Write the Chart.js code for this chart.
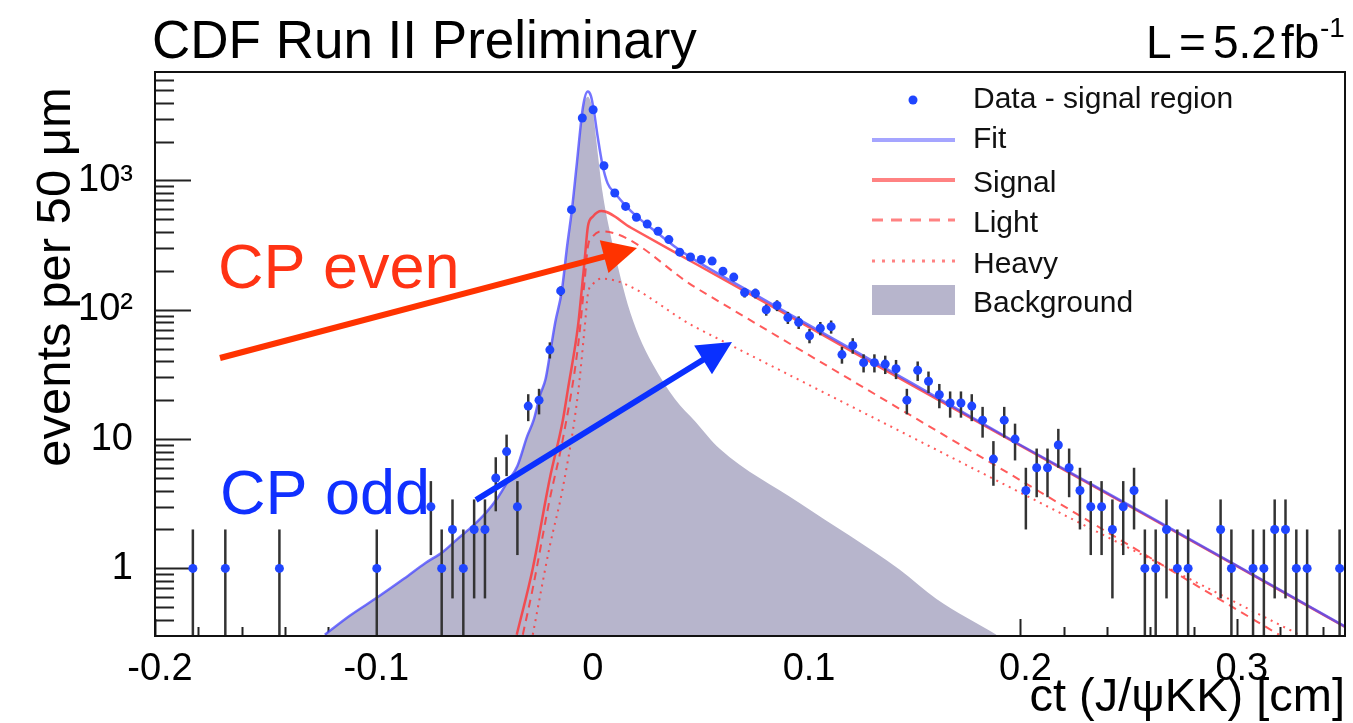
<!DOCTYPE html>
<html>
<head>
<meta charset="utf-8">
<script src="https://cdn.jsdelivr.net/npm/chart.js@4.4.1/dist/chart.umd.min.js"></script>
<style>
  html, body { margin: 0; padding: 0; background: #fff; }
  #wrap { width: 1353px; height: 723px; }
</style>
</head>
<body>
<div id="wrap"><canvas id="ctChart" width="1353" height="723"></canvas></div>
<script>
// proper decay length histogram, 50 um bins (bin centres in cm)
const binCenters = [
  -0.1825, -0.1675, -0.1425, -0.0975, -0.0725, -0.0675, -0.0625, -0.0575, -0.0525, -0.0475,
  -0.0425, -0.0375, -0.0325, -0.0275, -0.0225, -0.0175, -0.0125, -0.0075, -0.0025, 0.0025,
  0.0075, 0.0125, 0.0175, 0.0225, 0.0275, 0.0325, 0.0375, 0.0425, 0.0475, 0.0525,
  0.0575, 0.0625, 0.0675, 0.0725, 0.0775, 0.0825, 0.0875, 0.0925, 0.0975, 0.1025,
  0.1075, 0.1125, 0.1175, 0.1225, 0.1275, 0.1325, 0.1375, 0.1425, 0.1475, 0.1525,
  0.1575, 0.1625, 0.1675, 0.1725, 0.1775, 0.1825, 0.1875, 0.1925, 0.1975, 0.2025,
  0.2075, 0.2125, 0.2175, 0.2225, 0.2275, 0.2325, 0.2375, 0.2425, 0.2475, 0.2525,
  0.2575, 0.2625, 0.2675, 0.2725, 0.2775, 0.2925, 0.2975, 0.3075, 0.3125, 0.3175,
  0.3225, 0.3275, 0.3325, 0.3475
];
const binCounts = [
  1, 1, 1, 1, 3, 1, 2, 1, 2, 2,
  5, 8, 3, 18, 20, 49, 140, 595, 3040, 3520,
  1300, 800, 630, 519, 460, 405, 349, 279, 256, 245,
  238, 199, 179, 136, 134, 100, 108, 87, 80, 63,
  72, 74, 45, 53, 39, 39, 38, 35, 20, 34,
  28, 22, 19, 19, 18, 14, 7, 14, 10, 4,
  6, 6, 9, 6, 4, 3, 3, 2, 3, 4,
  1, 1, 2, 1, 1, 2, 1, 1, 1, 2,
  2, 1, 1, 1
];

// total fit
const fitX = [-0.1215, -0.11, -0.097, -0.085, -0.075, -0.067, -0.06, -0.053, -0.047, -0.042,
  -0.037, -0.0325, -0.028, -0.025, -0.022, -0.0195, -0.0175, -0.015, -0.012, -0.0095,
  -0.0073, -0.005, -0.0022, 0.0, 0.0015, 0.0028, 0.0046, 0.0069, 0.0092, 0.0125,
  0.0175, 0.0225, 0.03, 0.04, 0.05, 0.075, 0.1, 0.15, 0.2, 0.25, 0.3, 0.35];
const fitY = [0.307, 0.43, 0.60, 0.83, 1.1, 1.34, 1.7, 2.14, 2.7, 3.44,
  4.7, 6.2, 10.5, 14, 22, 29, 45, 80, 139, 313,
  595, 1370, 3700, 4870, 4500, 3500, 2180, 1300, 950, 800,
  640, 530, 420, 310, 240, 138, 80, 27, 9.0, 3.1, 1.05, 0.355];

// prompt background component
const bkgX = [-0.1215, -0.11, -0.097, -0.085, -0.075, -0.067, -0.06, -0.053, -0.047, -0.042,
  -0.037, -0.0325, -0.028, -0.025, -0.022, -0.0195, -0.0175, -0.015, -0.012, -0.0095,
  -0.0073, -0.005, -0.0022, 0.0, 0.0015, 0.0028, 0.0046, 0.0069, 0.01, 0.0141,
  0.0185, 0.0236, 0.03, 0.0403, 0.05, 0.061, 0.0979, 0.1441, 0.1612, 0.1889];
const bkgY = [0.307, 0.43, 0.60, 0.83, 1.1, 1.34, 1.7, 2.14, 2.7, 3.44,
  4.7, 6.2, 10.5, 14, 22, 29, 45, 78, 135, 290,
  560, 1300, 3550, 4450, 4000, 3000, 1640, 800, 420, 210,
  110, 63, 38, 20.4, 13.5, 8.4, 3.2, 0.98, 0.58, 0.307];

// signal and its light / heavy components
const sigX = [-0.0328, -0.0254, -0.0176, -0.0115, -0.0092, -0.0045, -0.0029, -0.0014, 0.0001, 0.0024,
  0.0063, 0.02, 0.05, 0.1, 0.15, 0.2, 0.25, 0.3, 0.35];
const sigY = [0.307, 1.0, 4.9, 14, 24, 75, 136, 245, 443, 526,
  580, 431, 226, 77, 26, 8.9, 3.05, 1.04, 0.353];
const lightX = [-0.030, -0.0254, -0.0176, -0.0115, -0.0045, -0.0014, 0.0001, 0.0024, 0.0063, 0.05,
  0.1, 0.15, 0.2, 0.25, 0.3, 0.3195];
const lightY = [0.307, 0.7, 3.4, 10, 52, 170, 310, 370, 405, 148,
  47, 15, 4.8, 1.52, 0.48, 0.307];
const heavyX = [-0.0254, -0.0176, -0.0115, -0.0045, -0.0014, 0.0001, 0.0024, 0.0063, 0.05, 0.1,
  0.15, 0.2, 0.25, 0.3, 0.33];
const heavyY = [0.307, 1.47, 4.2, 22.5, 73, 133, 158, 174, 73, 27.4,
  10.3, 3.85, 1.44, 0.54, 0.30];

const xTickLabels = { '-0.2': '-0.2', '-0.1': '-0.1', '0': '0', '0.1': '0.1', '0.2': '0.2', '0.3': '0.3' };
const yTickLabels = { '1': '1', '10': '10', '100': '10\u00b2', '1000': '10\u00b3' };

const FONT = '"Liberation Sans", Arial, Helvetica, sans-serif';
const FIT_COLOR = 'rgba(70, 70, 255, 0.75)';
const SIG_COLOR = 'rgba(255, 50, 50, 0.8)';
const BKG_COLOR = 'rgb(183, 181, 204)';
const DATA_COLOR = '#1f45ff';

function toPoints(xs, ys) {
  return xs.map((x, i) => ({ x: x, y: ys[i] }));
}

// ticks drawn inside the frame, ROOT style
const insideTicks = {
  id: 'insideTicks',
  beforeDatasetsDraw(chart) {
    const { ctx, chartArea: a, scales: { x, y } } = chart;
    ctx.save();
    ctx.strokeStyle = '#222';
    ctx.lineWidth = 2;
    ctx.beginPath();
    x.ticks.forEach(t => {
      const px = Math.round(x.getPixelForValue(t.value)) + 0.5;
      const major = Math.abs(t.value * 10 - Math.round(t.value * 10)) < 1e-6;
      ctx.moveTo(px, a.bottom);
      ctx.lineTo(px, a.bottom - (major ? 17 : 9));
    });
    y.ticks.forEach(t => {
      const py = Math.round(y.getPixelForValue(t.value)) + 0.5;
      const lg = Math.log10(t.value);
      const major = Math.abs(lg - Math.round(lg)) < 1e-6;
      ctx.moveTo(a.left, py);
      ctx.lineTo(a.left + (major ? 36 : 19), py);
    });
    ctx.stroke();
    ctx.restore();
  }
};

// sqrt(N) error bars under the data markers
const errorBars = {
  id: 'errorBars',
  beforeDatasetDraw(chart, args) {
    const ds = chart.data.datasets[args.index];
    if (ds.label !== 'Data') return;
    const { ctx, chartArea: a, scales: { x, y } } = chart;
    ctx.save();
    ctx.beginPath();
    ctx.rect(a.left, a.top, a.width, a.height);
    ctx.clip();
    ctx.strokeStyle = '#333';
    ctx.lineWidth = 2.5;
    ds.data.forEach(p => {
      const err = Math.sqrt(p.y);
      const px = x.getPixelForValue(p.x);
      const lo = p.y - err > 0 ? y.getPixelForValue(p.y - err) : a.bottom;
      const hi = y.getPixelForValue(p.y + err);
      ctx.beginPath();
      ctx.moveTo(px, lo);
      ctx.lineTo(px, hi);
      ctx.stroke();
    });
    ctx.restore();
  }
};

function drawArrow(ctx, x0, y0, x1, y1, color) {
  const dx = x1 - x0, dy = y1 - y0;
  const len = Math.hypot(dx, dy);
  const ux = dx / len, uy = dy / len;
  const head = 34, half = 17;
  const bx = x1 - ux * head, by = y1 - uy * head;
  ctx.save();
  ctx.strokeStyle = color;
  ctx.fillStyle = color;
  ctx.lineWidth = 6;
  ctx.beginPath();
  ctx.moveTo(x0, y0);
  ctx.lineTo(bx + ux * 2, by + uy * 2);
  ctx.stroke();
  ctx.beginPath();
  ctx.moveTo(x1, y1);
  ctx.lineTo(bx - uy * half, by + ux * half);
  ctx.lineTo(bx + uy * half, by - ux * half);
  ctx.closePath();
  ctx.fill();
  ctx.restore();
}

// frame, titles, legend and the CP annotations
const decorations = {
  id: 'decorations',
  afterDraw(chart) {
    const { ctx, chartArea: a } = chart;
    ctx.save();

    ctx.strokeStyle = '#111';
    ctx.lineWidth = 2;
    ctx.strokeRect(a.left, a.top, a.width, a.height);

    ctx.fillStyle = '#000';
    ctx.textBaseline = 'alphabetic';
    ctx.textAlign = 'left';
    ctx.font = '53px ' + FONT;
    ctx.fillText('CDF Run II Preliminary', 152, 58);

    // luminosity, with tight spacing
    ctx.font = '46px ' + FONT;
    ctx.fillText('L', 1146, 58);
    ctx.fillText('=', 1179, 58);
    ctx.fillText('5.2', 1213, 58);
    ctx.fillText('fb', 1281, 58);
    ctx.font = '28px ' + FONT;
    ctx.fillText('-1', 1320, 37);

    ctx.save();
    ctx.translate(70, 277);
    ctx.rotate(-Math.PI / 2);
    ctx.textAlign = 'center';
    ctx.font = '49px ' + FONT;
    ctx.fillText('events per 50 \u03bcm', 0, 0);
    ctx.restore();

    ctx.textAlign = 'right';
    ctx.font = '47px ' + FONT;
    ctx.fillText('ct (J/\u03c8KK) [cm]', 1345, 711);

    // legend
    const lx0 = 872, lx1 = 955, tx = 973;
    ctx.textAlign = 'left';
    ctx.font = '30px ' + FONT;
    ctx.fillStyle = '#111';
    ctx.fillText('Data - signal region', tx, 108);
    ctx.fillText('Fit', tx, 148);
    ctx.fillText('Signal', tx, 192);
    ctx.fillText('Light', tx, 232);
    ctx.fillText('Heavy', tx, 273);
    ctx.fillText('Background', tx, 312);

    ctx.fillStyle = DATA_COLOR;
    ctx.beginPath();
    ctx.arc(913, 100, 4.5, 0, Math.PI * 2);
    ctx.fill();

    ctx.lineWidth = 4;
    ctx.strokeStyle = 'rgb(165, 165, 255)';
    ctx.beginPath(); ctx.moveTo(lx0, 140); ctx.lineTo(lx1, 140); ctx.stroke();
    ctx.strokeStyle = 'rgb(255, 130, 130)';
    ctx.beginPath(); ctx.moveTo(lx0, 180); ctx.lineTo(lx1, 180); ctx.stroke();
    ctx.lineWidth = 3;
    ctx.setLineDash([11, 8]);
    ctx.beginPath(); ctx.moveTo(lx0, 220); ctx.lineTo(lx1, 220); ctx.stroke();
    ctx.setLineDash([3, 7]);
    ctx.beginPath(); ctx.moveTo(lx0, 261); ctx.lineTo(lx1, 261); ctx.stroke();
    ctx.setLineDash([]);
    ctx.fillStyle = BKG_COLOR;
    ctx.fillRect(lx0, 285, lx1 - lx0, 30);

    // CP annotations
    ctx.font = '63px ' + FONT;
    ctx.fillStyle = '#ff3314';
    ctx.fillText('CP even', 218, 288);
    ctx.fillStyle = '#1030ff';
    ctx.fillText('CP odd', 220, 514);
    drawArrow(ctx, 220, 358, 637, 248, '#ff3300');
    drawArrow(ctx, 476, 500, 732, 342, '#0a30ff');

    ctx.restore();
  }
};

const ctx = document.getElementById('ctChart').getContext('2d');
new Chart(ctx, {
  type: 'line',
  data: {
    datasets: [
      {
        label: 'Data',
        data: toPoints(binCenters, binCounts),
        showLine: false,
        pointRadius: 4.5,
        pointBorderWidth: 0,
        pointBackgroundColor: DATA_COLOR,
        order: 0
      },
      {
        label: 'Fit',
        data: toPoints(fitX, fitY),
        borderColor: FIT_COLOR,
        borderWidth: 2.5,
        pointRadius: 0,
        cubicInterpolationMode: 'monotone',
        order: 1
      },
      {
        label: 'Signal',
        data: toPoints(sigX, sigY),
        borderColor: SIG_COLOR,
        borderWidth: 2.5,
        pointRadius: 0,
        cubicInterpolationMode: 'monotone',
        order: 2
      },
      {
        label: 'Light',
        data: toPoints(lightX, lightY),
        borderColor: SIG_COLOR,
        borderWidth: 2,
        borderDash: [8, 6],
        pointRadius: 0,
        cubicInterpolationMode: 'monotone',
        order: 3
      },
      {
        label: 'Heavy',
        data: toPoints(heavyX, heavyY),
        borderColor: SIG_COLOR,
        borderWidth: 2,
        borderDash: [2, 5],
        pointRadius: 0,
        cubicInterpolationMode: 'monotone',
        order: 4
      },
      {
        label: 'Background',
        data: toPoints(bkgX, bkgY),
        borderWidth: 0,
        borderColor: 'rgba(0,0,0,0)',
        backgroundColor: BKG_COLOR,
        fill: 'start',
        pointRadius: 0,
        cubicInterpolationMode: 'monotone',
        order: 5
      }
    ]
  },
  options: {
    responsive: false,
    animation: false,
    events: [],
    layout: { padding: { left: 0, top: 72, right: 8, bottom: 0 } },
    plugins: {
      legend: { display: false },
      tooltip: { enabled: false },
      title: { display: false }
    },
    scales: {
      x: {
        type: 'linear',
        min: -0.2,
        max: 0.35,
        grid: { display: false },
        border: { display: false },
        afterBuildTicks: scale => {
          const ticks = [];
          for (let i = -10; i <= 17; i++) ticks.push({ value: Math.round(i * 2) / 100 });
          scale.ticks = ticks;
        },
        afterFit: scale => { scale.height = 87; },
        ticks: {
          autoSkip: false,
          maxRotation: 0,
          padding: 3,
          labelOffset: 5,
          color: '#000',
          font: { family: FONT, size: 38 },
          callback: v => xTickLabels[String(Math.round(v * 100) / 100)] || ''
        }
      },
      y: {
        type: 'logarithmic',
        min: 0.307,
        max: 6900,
        grid: { display: false },
        border: { display: false },
        afterBuildTicks: scale => {
          const ticks = [];
          for (let m = 4; m <= 9; m++) ticks.push({ value: m / 10 });
          [1, 10, 100, 1000].forEach(d => {
            for (let m = 1; m <= 9; m++) {
              const v = m * d;
              if (v <= 6900) ticks.push({ value: v });
            }
          });
          scale.ticks = ticks;
        },
        afterFit: scale => { scale.width = 155; },
        ticks: {
          autoSkip: false,
          padding: 14,
          color: '#000',
          font: { family: FONT, size: 38 },
          callback: v => yTickLabels[String(v)] || ''
        }
      }
    }
  },
  plugins: [insideTicks, errorBars, decorations]
});
</script>
</body>
</html>
